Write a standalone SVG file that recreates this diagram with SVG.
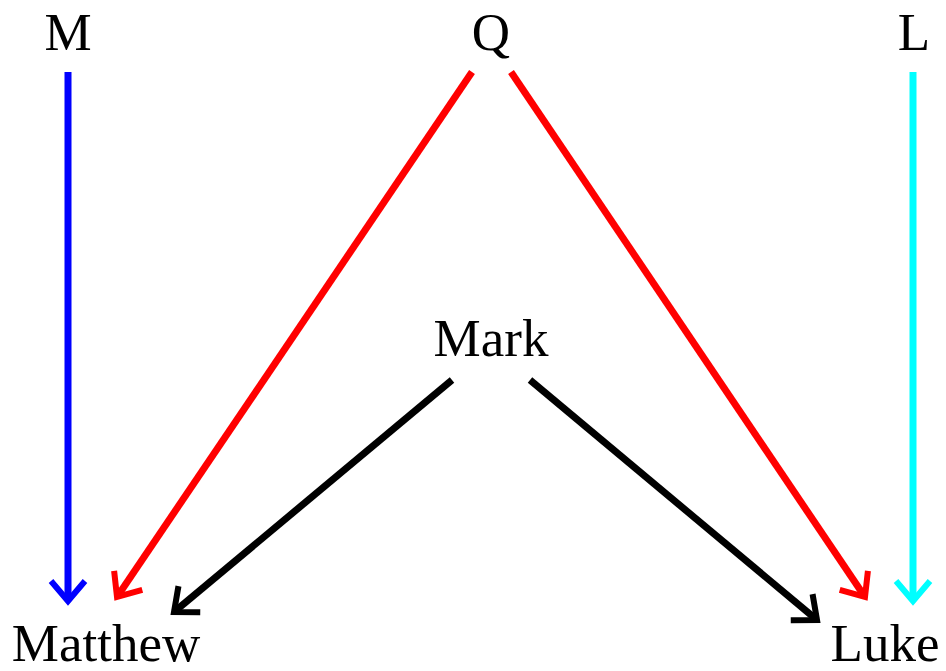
<svg xmlns="http://www.w3.org/2000/svg" width="946" height="671" viewBox="0 0 946 671">
<style>
text{font-family:"Liberation Serif","Times New Roman",serif;font-size:53px;fill:#000;text-anchor:middle}
.e{fill:none;stroke-width:7}
</style>
<defs>
<marker id="ab" markerUnits="userSpaceOnUse" viewBox="-30 -25 36 50" markerWidth="36" markerHeight="50" refX="0" refY="0" orient="auto"><path d="M-20,-17 L0,0 L-20,17" fill="none" stroke="#0000ff" stroke-width="6"/></marker>
<marker id="ar" markerUnits="userSpaceOnUse" viewBox="-30 -25 36 50" markerWidth="36" markerHeight="50" refX="0" refY="0" orient="auto"><path d="M-20,-17 L0,0 L-20,17" fill="none" stroke="#ff0000" stroke-width="6"/></marker>
<marker id="ak" markerUnits="userSpaceOnUse" viewBox="-30 -25 36 50" markerWidth="36" markerHeight="50" refX="0" refY="0" orient="auto"><path d="M-20,-17 L0,0 L-20,17" fill="none" stroke="#000000" stroke-width="6"/></marker>
<marker id="ac" markerUnits="userSpaceOnUse" viewBox="-30 -25 36 50" markerWidth="36" markerHeight="50" refX="0" refY="0" orient="auto"><path d="M-20,-17 L0,0 L-20,17" fill="none" stroke="#00ffff" stroke-width="6"/></marker>
</defs>
<g id="connectors">
<line class="e" x1="68" y1="72" x2="68" y2="601" stroke="#0000ff" marker-end="url(#ab)"/>
<line class="e" x1="472" y1="72" x2="117" y2="597" stroke="#ff0000" marker-end="url(#ar)"/>
<line class="e" x1="511" y1="72" x2="865" y2="597" stroke="#ff0000" marker-end="url(#ar)"/>
<line class="e" x1="913" y1="72" x2="913" y2="601" stroke="#00ffff" marker-end="url(#ac)"/>
<line class="e" x1="452" y1="380" x2="174" y2="612" stroke="#000000" marker-end="url(#ak)"/>
<line class="e" x1="530" y1="380" x2="817" y2="620" stroke="#000000" marker-end="url(#ak)"/>
</g>
<g id="M"><text x="68" y="50">M</text></g>
<g id="Q"><text x="491" y="50">Q</text></g>
<g id="L"><text x="914" y="50">L</text></g>
<g id="Mark"><text x="491" y="356">Mark</text></g>
<g id="Matthew"><text x="106" y="661">Matthew</text></g>
<g id="Luke"><text x="885" y="661">Luke</text></g>
</svg>
